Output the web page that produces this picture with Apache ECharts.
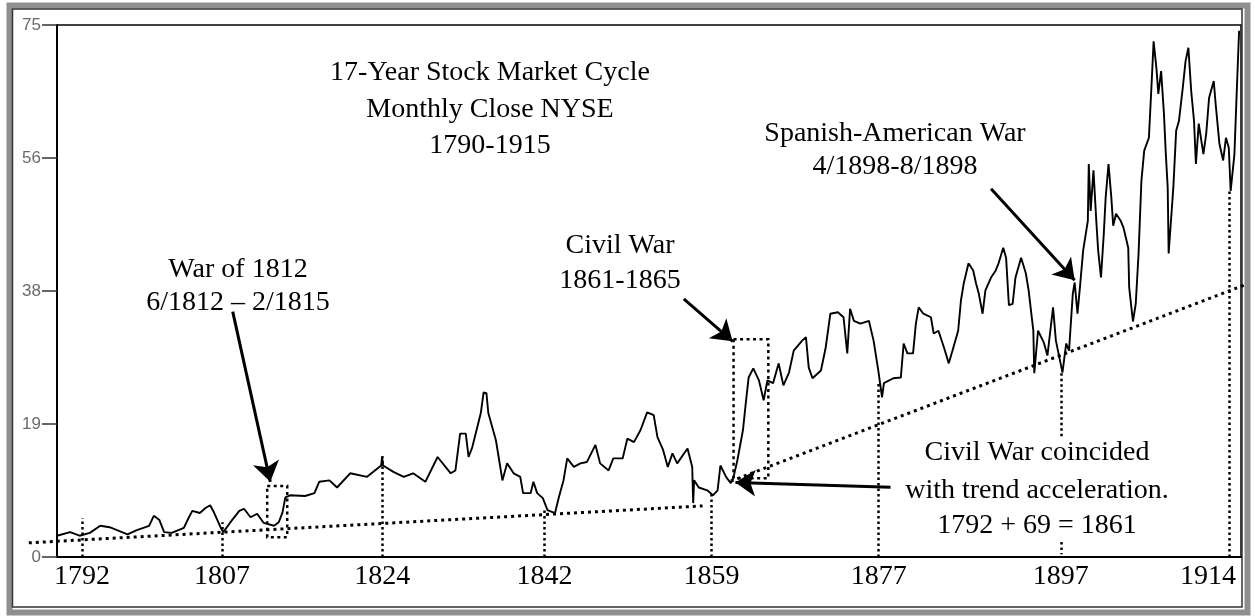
<!DOCTYPE html>
<html><head><meta charset="utf-8">
<script src="https://cdn.jsdelivr.net/npm/echarts@6/dist/echarts.min.js"></script>
<style>html,body{margin:0;padding:0;background:#fff}#c{width:1255px;height:616px}</style>
</head><body><div id="c"></div>
<script>
// ---- data ----
const years = [1790.0,1791.4,1792.4,1793.5,1794.6,1795.6,1797.5,1798.5,1799.8,1800.3,1800.9,1801.4,1802.2,1803.5,1804.0,1804.4,1805.2,1805.8,1806.3,1806.7,1807.4,1807.7,1808.4,1809.4,1809.9,1810.6,1811.3,1812.0,1813.1,1813.6,1814.0,1814.3,1814.8,1816.4,1817.4,1817.9,1819.0,1819.8,1821.2,1823.0,1824.5,1824.6,1824.7,1825.8,1826.9,1827.9,1829.2,1830.5,1831.9,1832.4,1832.9,1833.5,1833.8,1834.2,1835.1,1835.4,1835.7,1835.9,1836.7,1837.0,1837.4,1837.9,1838.6,1839.3,1839.6,1840.4,1840.7,1841.1,1841.7,1842.2,1843.0,1843.4,1843.9,1844.3,1845.0,1845.7,1846.4,1847.3,1847.8,1848.7,1849.2,1850.2,1850.7,1851.4,1852.1,1852.8,1853.5,1853.9,1854.5,1855.0,1855.5,1856.0,1857.1,1857.6,1857.7,1857.8,1858.3,1859.2,1859.8,1860.3,1860.6,1861.2,1861.7,1862.0,1862.4,1863.0,1863.3,1863.6,1864.1,1864.7,1865.2,1865.6,1866.2,1866.8,1867.3,1867.9,1868.4,1869.3,1869.7,1870.0,1870.4,1871.3,1871.8,1872.3,1873.1,1873.7,1874.1,1874.4,1874.8,1875.5,1876.4,1876.9,1877.4,1877.8,1878.0,1879.0,1879.8,1880.1,1880.5,1881.1,1881.4,1881.7,1882.2,1883.0,1883.3,1883.8,1884.4,1884.9,1885.3,1885.9,1886.2,1886.5,1887.0,1887.5,1887.8,1888.1,1888.5,1888.8,1889.4,1889.9,1890.2,1890.7,1891.0,1891.3,1891.7,1892.0,1892.6,1893.1,1893.4,1893.9,1894.0,1894.4,1895.0,1895.4,1896.0,1896.3,1896.8,1897.0,1897.4,1897.7,1898.1,1898.3,1898.6,1898.9,1899.2,1899.7,1899.8,1900.0,1900.3,1900.6,1900.8,1901.1,1901.4,1901.6,1901.9,1902.2,1902.4,1902.7,1903.2,1903.5,1904.0,1904.1,1904.5,1904.8,1905.1,1905.4,1905.7,1906.2,1906.5,1906.7,1907.0,1907.2,1907.5,1907.8,1908.0,1908.2,1908.3,1908.8,1909.1,1909.4,1909.8,1910.1,1910.4,1910.7,1911.0,1911.2,1911.5,1912.0,1912.3,1912.6,1913.1,1913.3,1913.7,1914.1,1914.4,1914.7,1914.9,1915.3,1915.5,1915.7,1915.8];
const closes = [3.0,3.5,3.0,3.4,4.4,4.2,3.2,3.8,4.4,5.8,5.2,3.5,3.4,4.1,5.5,6.5,6.2,6.9,7.3,6.3,4.2,3.5,4.8,6.5,6.8,5.6,6.1,4.8,4.4,4.9,6.3,8.4,8.7,8.6,9.0,10.6,10.8,9.8,11.8,11.3,12.9,14.2,12.9,12.0,11.3,11.8,10.6,14.1,11.8,12.2,17.4,17.4,14.1,15.5,20.3,23.2,23.1,20.3,16.5,14.1,10.8,13.2,11.8,11.3,9.0,9.0,10.6,9.0,8.3,6.6,6.2,8.4,10.8,13.9,12.7,13.2,13.4,15.8,13.2,12.2,13.9,13.9,16.7,16.2,17.9,20.4,20.0,16.9,15.1,12.7,14.6,13.2,15.3,12.7,7.6,10.8,9.8,9.4,8.7,9.4,12.9,11.3,10.4,11.3,13.6,17.9,21.7,25.3,26.6,24.9,22.1,24.9,24.5,27.3,24.2,26.0,29.1,30.5,31.0,26.7,25.2,26.3,29.5,34.3,34.5,33.8,28.7,35.0,33.3,32.9,33.3,30.5,26.3,22.5,24.5,25.2,25.3,30.1,28.7,28.7,32.9,35.2,34.3,33.8,31.5,31.9,29.5,27.3,29.1,31.9,36.2,38.6,41.4,40.4,38.6,37.1,34.3,37.6,39.4,40.4,41.4,43.6,42.2,35.5,35.7,39.4,42.2,40.0,37.6,31.9,25.9,31.9,30.3,28.4,35.2,30.5,27.3,26.0,30.1,29.1,37.1,38.7,34.3,38.6,43.2,47.4,55.4,48.8,54.5,47.4,43.2,39.4,45.6,50.7,55.4,50.7,46.7,48.4,47.4,46.4,43.6,38.0,33.2,35.7,42.8,53.0,57.3,59.1,67.1,72.7,68.9,65.3,68.5,62.5,56.8,52.1,42.8,52.1,60.1,61.5,66.1,69.9,71.8,65.7,61.5,55.4,61.1,56.8,59.7,64.7,67.1,63.9,58.3,55.9,59.1,57.7,51.6,56.8,63.9,70.9,74.2];

// cycle-low years (x-axis labels sit on them) and the tops of their dotted markers
const cycleLowYears = [1792.66,1807.57,1824.62,1841.87,1859.66,1877.44,1896.83,1914.72];
const xTickLabels = ['1792','1807','1824','1842','1859','1877','1897','1914'];
const cycleLowTops = [5.5,4.9,14.2,6.6,8.9,24.8,25.9,51.6];

const yTickValues = [0,18.75,37.5,56.25,75];
const yTickLabels = ['0','19','38','56','75'];

// trend lines [year, value]
const trendEarly = [[1787.0,2.0],[1858.7,7.2]];
const trendLate = [[1861.7,10.7],[1916.5,38.4]];

// war boxes [yearFrom, yearTo, valueLow, valueHigh]
const war1812Box = [1812.37,1814.5,2.8,10.0];
const civilWarBox = [1862.0,1865.7,11.1,30.7];

// arrows [[fromYear,fromVal],[toYear,toVal]]
const arrowList = [
  [[1808.7,34.6],[1812.7,10.6]],
  [[1856.7,36.4],[1861.9,30.4]],
  [[1889.4,51.9],[1898.3,39.0]],
  [[1878.7,9.85],[1862.2,10.5]]
];

// ---- build ----
const mainData = years.map((y,i)=>[y,closes[i]]);
const verticals = cycleLowYears.map((y,i)=>{
  if (xTickLabels[i]==='1897') return null;
  return {coords:[[y,0],[y,cycleLowTops[i]]]};
}).filter(Boolean);
const i97 = xTickLabels.indexOf('1897');
verticals.push({coords:[[cycleLowYears[i97],cycleLowTops[i97]],[cycleLowYears[i97],16.9]]});
verticals.push({coords:[[cycleLowYears[i97],2.1],[cycleLowYears[i97],0.4]]});
function boxCoords(b){return [[b[0],b[3]],[b[1],b[3]],[b[1],b[2]],[b[0],b[2]],[b[0],b[3]]];}

const serif = '"Liberation Serif","Times New Roman",serif';
function txt(t,x,y){
  return {type:'text',x:x,y:y,z:100,style:{text:t,font:'28px '+serif,fill:'#000',
    textAlign:'center',align:'center',textVerticalAlign:'middle',verticalAlign:'middle'}};
}

const chart = echarts.init(document.getElementById('c'),null,{renderer:'canvas'});
chart.setOption({
  animation:false,
  backgroundColor:'#fff',
  grid:{left:57,right:14,top:25,bottom:59,show:true,borderColor:'#000',borderWidth:1.5,backgroundColor:'transparent'},
  xAxis:{type:'value',min:1790,max:1916,
    axisLine:{show:true,lineStyle:{color:'#000',width:2}},
    axisTick:{show:false},
    splitLine:{show:false},
    axisLabel:{customValues:cycleLowYears,color:'#000',fontSize:28,fontFamily:serif,margin:6,
      formatter:function(v){
        let best=0,d=1e9;cycleLowYears.forEach((c,i)=>{if(Math.abs(c-v)<d){d=Math.abs(c-v);best=i;}});
        return best===cycleLowYears.length-1 ? '{e|'+xTickLabels[best]+'}' : xTickLabels[best];
      },
      rich:{e:{fontSize:28,fontFamily:serif,color:'#000',padding:[0,42,0,0]}}
    }
  },
  yAxis:{type:'value',min:0,max:75,interval:18.75,
    axisLine:{show:true,lineStyle:{color:'#000',width:2}},
    axisTick:{show:true,length:15,lineStyle:{color:'#333',width:1.5}},
    splitLine:{show:false},
    axisLabel:{color:'#6a6a6a',fontSize:17,fontFamily:'"Liberation Sans",Arial,sans-serif',margin:16,
      formatter:function(v){let best=0,d=1e9;yTickValues.forEach((c,i)=>{if(Math.abs(c-v)<d){d=Math.abs(c-v);best=i;}});return yTickLabels[best];}}
  },
  series:[
    {type:'lines',coordinateSystem:'cartesian2d',clip:false,z:3,
      lineStyle:{color:'#000',width:3,type:[3,4],opacity:1},
      data:[{coords:trendEarly},{coords:trendLate}]},
    {type:'lines',coordinateSystem:'cartesian2d',z:3,
      lineStyle:{color:'#000',width:2.5,type:[2.5,3],opacity:1},
      data:verticals},
    {type:'lines',coordinateSystem:'cartesian2d',polyline:true,z:3,
      lineStyle:{color:'#000',width:2.5,type:[3,3.5],opacity:1},
      data:[{coords:boxCoords(war1812Box)},{coords:boxCoords(civilWarBox)}]},
    {type:'line',data:mainData,showSymbol:false,z:5,
      lineStyle:{color:'#000',width:1.9},itemStyle:{color:'#000'}},
    {type:'lines',coordinateSystem:'cartesian2d',z:6,
      symbol:['none','arrow'],symbolSize:[14,20],
      lineStyle:{color:'#000',width:3,type:'solid',opacity:1},
      itemStyle:{color:'#000'},
      data:arrowList.map(a=>({coords:a}))}
  ],
  graphic:{elements:[
    {type:'rect',shape:{x:9.5,y:5.5,width:1238,height:607},style:{fill:'none',stroke:'#8f8f8f',lineWidth:6},z:0,silent:true},
    {type:'rect',shape:{x:12.5,y:9,width:1229.5,height:598},style:{fill:'none',stroke:'#333',lineWidth:1.5},z:0,silent:true},
    txt('17-Year Stock Market Cycle',490,73),
    txt('Monthly Close NYSE',490,110),
    txt('1790-1915',490,146),
    txt('War of 1812',238,270),
    txt('6/1812 \u2013 2/1815',238,303),
    txt('Civil War',620,246),
    txt('1861-1865',620,281),
    txt('Spanish-American War',895,134),
    txt('4/1898-8/1898',895,167),
    txt('Civil War coincided',1037,453),
    txt('with trend acceleration.',1037,491),
    txt('1792 + 69 = 1861',1037,526)
  ]}
});
</script></body></html>
